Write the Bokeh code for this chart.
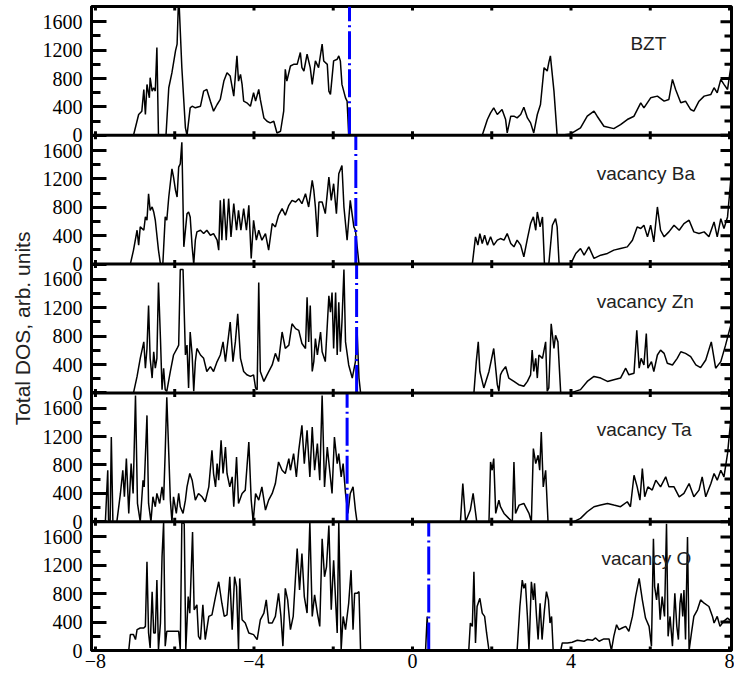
import math
from bokeh.plotting import figure
from bokeh.models import Range1d, LinearAxis, FixedTicker, Label, Span
from bokeh.embed import file_html
from bokeh.resources import INLINE

# ---------------- data (energy in eV, total DOS in arb. units) ----------------
panel_names = ["BZT", "vacancy Ba", "vacancy Zn", "vacancy Ta", "vacancy O"]
fermi_levels = [-1.59, -1.43, -1.41, -1.65, 0.41]
x_ticks = [-8, -4, 0, 4, 8]
x_tick_labels = ["\u22128", "\u22124", "0", "4", "8"]
x_minor_ticks = [-6, -2, 2, 6]
y_ticks = [0, 400, 800, 1200, 1600]
y_minor_ticks = [200, 600, 1000, 1400]

dos_bzt = [(-7.10, 0), (-7.04, 0), (-6.91, 293), (-6.83, 340), (-6.78, 646), (-6.74, 293), (-6.70, 717), (-6.64, 528), (-6.62, 812), (-6.57, 623), (-6.53, 670), (-6.49, 623), (-6.45, 1237), (-6.41, 0), (-6.22, 0), (-6.15, 670), (-6.07, 883), (-5.98, 1190), (-5.94, 1284), (-5.90, 2000), (-5.82, 953), (-5.73, 104), (-5.69, 0), (-5.61, 387), (-5.56, 410), (-5.48, 387), (-5.35, 410), (-5.27, 623), (-5.19, 646), (-5.10, 481), (-5.02, 340), (-4.93, 434), (-4.85, 505), (-4.76, 764), (-4.68, 883), (-4.60, 835), (-4.51, 552), (-4.43, 1119), (-4.39, 764), (-4.34, 859), (-4.30, 717), (-4.26, 481), (-4.18, 458), (-4.09, 410), (-4.01, 599), (-3.96, 481), (-3.88, 646), (-3.84, 505), (-3.75, 245), (-3.67, 198), (-3.59, 175), (-3.50, 198), (-3.42, 33), (-3.33, 57), (-3.25, 340), (-3.21, 930), (-3.17, 764), (-3.08, 977), (-3.00, 1000), (-2.91, 1000), (-2.83, 1166), (-2.79, 953), (-2.74, 906), (-2.66, 1142), (-2.58, 953), (-2.53, 717), (-2.45, 1048), (-2.37, 953), (-2.28, 1284), (-2.24, 1048), (-2.15, 1000), (-2.11, 623), (-2.07, 576), (-1.99, 1048), (-1.90, 1071), (-1.86, 1119), (-1.82, 1048), (-1.78, 717), (-1.69, 528), (-1.65, 481), (-1.61, 0),
           (1.76, 0), (1.89, 222), (1.97, 316), (2.05, 387), (2.14, 293), (2.26, 363), (2.35, 222), (2.39, 33), (2.48, 269), (2.56, 269), (2.64, 245), (2.73, 293), (2.81, 396), (2.90, 245), (2.98, 175), (3.06, 33), (3.15, 293), (3.23, 434), (3.32, 953), (3.40, 906), (3.44, 1024), (3.48, 1119), (3.57, 623), (3.65, 0), (3.74, 0), (3.99, 19), (4.24, 104), (4.41, 269), (4.58, 340), (4.66, 269), (4.83, 127), (5.08, 94), (5.25, 151), (5.42, 222), (5.59, 269), (5.76, 458), (5.84, 387), (6.01, 528), (6.18, 552), (6.35, 481), (6.47, 505), (6.56, 788), (6.64, 646), (6.77, 458), (6.89, 481), (7.02, 363), (7.10, 340), (7.23, 481), (7.36, 552), (7.53, 576), (7.61, 670), (7.69, 599), (7.78, 788), (7.86, 717), (7.95, 646), (8.03, 953)]

dos_vac_ba = [(-7.14, 0), (-7.12, 0), (-7.04, 197), (-6.95, 477), (-6.91, 267), (-6.87, 524), (-6.78, 477), (-6.74, 665), (-6.70, 618), (-6.66, 992), (-6.62, 758), (-6.57, 805), (-6.53, 735), (-6.49, 618), (-6.41, 197), (-6.36, 0), (-6.30, 0), (-6.24, 665), (-6.20, 618), (-6.15, 945), (-6.07, 1343), (-6.03, 1226), (-5.98, 1039), (-5.94, 945), (-5.90, 1367), (-5.86, 1413), (-5.82, 1718), (-5.77, 243), (-5.69, 711), (-5.65, 735), (-5.61, 665), (-5.56, 243), (-5.52, 0), (-5.48, 337), (-5.44, 454), (-5.35, 477), (-5.27, 430), (-5.19, 477), (-5.10, 407), (-5.02, 430), (-4.93, 337), (-4.89, 197), (-4.85, 899), (-4.81, 337), (-4.76, 922), (-4.70, 337), (-4.64, 922), (-4.58, 384), (-4.51, 852), (-4.44, 477), (-4.39, 758), (-4.33, 477), (-4.26, 782), (-4.19, 477), (-4.13, 828), (-4.07, 80), (-4.01, 618), (-3.94, 337), (-3.88, 477), (-3.80, 337), (-3.71, 430), (-3.63, 197), (-3.54, 571), (-3.46, 524), (-3.38, 688), (-3.29, 782), (-3.21, 688), (-3.12, 828), (-3.04, 899), (-2.95, 875), (-2.87, 922), (-2.79, 852), (-2.70, 992), (-2.62, 805), (-2.53, 1179), (-2.49, 1039), (-2.45, 805), (-2.40, 384), (-2.36, 875), (-2.28, 875), (-2.20, 711), (-2.11, 1226), (-2.05, 899), (-1.99, 1133), (-1.92, 711), (-1.86, 1273), (-1.78, 1390), (-1.73, 805), (-1.65, 337), (-1.57, 899), (-1.48, 524), (-1.44, 477), (-1.35, 0),
              (1.51, 0), (1.59, 384), (1.65, 267), (1.70, 430), (1.76, 290), (1.82, 407), (1.89, 267), (1.97, 384), (2.05, 267), (2.14, 337), (2.22, 360), (2.31, 337), (2.39, 430), (2.48, 290), (2.56, 243), (2.64, 337), (2.73, 267), (2.81, 103), (2.90, 360), (2.98, 571), (3.05, 665), (3.11, 477), (3.15, 735), (3.22, 524), (3.28, 665), (3.33, 0), (3.44, 0), (3.53, 548), (3.61, 641), (3.65, 524), (3.70, 0), (3.99, 0), (4.12, 150), (4.24, 220), (4.33, 126), (4.45, 243), (4.58, 80), (4.75, 126), (4.92, 150), (5.08, 197), (5.25, 220), (5.42, 243), (5.55, 337), (5.67, 524), (5.76, 501), (5.84, 548), (5.93, 384), (6.01, 548), (6.09, 314), (6.18, 805), (6.26, 477), (6.35, 384), (6.47, 454), (6.60, 548), (6.73, 477), (6.85, 571), (6.98, 618), (7.10, 454), (7.23, 430), (7.36, 454), (7.48, 384), (7.61, 594), (7.69, 384), (7.78, 641), (7.86, 501), (7.95, 665), (8.03, 1179)]

dos_vac_zn = [(-7.08, 0), (-7.04, 0), (-6.95, 232), (-6.87, 487), (-6.78, 719), (-6.74, 348), (-6.70, 626), (-6.66, 1230), (-6.62, 487), (-6.57, 209), (-6.53, 580), (-6.49, 348), (-6.45, 487), (-6.41, 1554), (-6.36, 766), (-6.32, 46), (-6.28, 348), (-6.24, 46), (-6.20, 23), (-6.11, 302), (-6.03, 534), (-5.94, 626), (-5.90, 673), (-5.86, 1740), (-5.79, 1740), (-5.73, 534), (-5.69, 673), (-5.65, 70), (-5.61, 858), (-5.56, 534), (-5.52, 23), (-5.48, 441), (-5.44, 626), (-5.35, 534), (-5.27, 487), (-5.19, 302), (-5.10, 371), (-5.02, 302), (-4.93, 441), (-4.85, 534), (-4.78, 719), (-4.72, 441), (-4.60, 998), (-4.53, 441), (-4.47, 719), (-4.41, 1114), (-4.34, 487), (-4.26, 302), (-4.18, 255), (-4.09, 232), (-4.01, 255), (-3.96, 70), (-3.92, 46), (-3.88, 1554), (-3.84, 302), (-3.75, 162), (-3.67, 255), (-3.54, 394), (-3.46, 557), (-3.38, 441), (-3.29, 858), (-3.21, 626), (-3.12, 673), (-3.04, 974), (-2.95, 905), (-2.87, 882), (-2.79, 696), (-2.70, 626), (-2.66, 1346), (-2.62, 719), (-2.58, 1230), (-2.53, 302), (-2.49, 441), (-2.45, 766), (-2.40, 534), (-2.32, 858), (-2.28, 580), (-2.20, 441), (-2.11, 1369), (-2.07, 1137), (-2.03, 1415), (-1.99, 626), (-1.94, 1415), (-1.90, 534), (-1.86, 1276), (-1.82, 580), (-1.78, 998), (-1.73, 1740), (-1.69, 719), (-1.61, 394), (-1.52, 209), (-1.44, 441), (-1.40, 905), (-1.35, 209), (-1.31, 0),
              (1.55, 0), (1.61, 441), (1.66, 719), (1.70, 302), (1.80, 70), (1.93, 302), (2.05, 626), (2.14, 116), (2.18, 23), (2.22, 255), (2.26, 302), (2.35, 371), (2.43, 209), (2.56, 162), (2.68, 116), (2.81, 93), (2.90, 162), (2.98, 255), (3.02, 603), (3.06, 302), (3.11, 487), (3.15, 209), (3.19, 534), (3.28, 487), (3.36, 719), (3.40, 23), (3.44, 70), (3.50, 974), (3.57, 626), (3.61, 812), (3.67, 719), (3.74, 0), (3.99, 0), (4.24, 46), (4.41, 162), (4.58, 232), (4.75, 209), (4.92, 162), (5.08, 186), (5.25, 209), (5.38, 348), (5.46, 255), (5.59, 278), (5.66, 882), (5.72, 348), (5.77, 487), (5.84, 394), (5.90, 835), (5.94, 348), (6.03, 441), (6.09, 302), (6.18, 534), (6.26, 603), (6.35, 557), (6.43, 418), (6.56, 394), (6.68, 487), (6.77, 580), (6.89, 557), (7.02, 510), (7.15, 394), (7.27, 357), (7.40, 464), (7.54, 719), (7.65, 348), (7.78, 441), (7.90, 673), (8.03, 951)]

dos_vac_ta = [(-7.75, 0), (-7.69, 725), (-7.67, 23), (-7.63, 0), (-7.60, 1193), (-7.56, 0), (-7.46, 0), (-7.37, 398), (-7.31, 725), (-7.27, 351), (-7.22, 889), (-7.16, 117), (-7.10, 819), (-7.05, 398), (-6.99, 1778), (-6.94, 257), (-6.87, 0), (-6.80, 585), (-6.77, 491), (-6.70, 1498), (-6.66, 257), (-6.60, 0), (-6.55, 351), (-6.49, 211), (-6.45, 398), (-6.38, 257), (-6.32, 491), (-6.28, 304), (-6.24, 983), (-6.20, 1755), (-6.15, 959), (-6.11, 304), (-6.07, 0), (-6.03, 351), (-5.96, 117), (-5.90, 398), (-5.86, 211), (-5.79, 117), (-5.73, 304), (-5.69, 491), (-5.62, 679), (-5.56, 585), (-5.48, 304), (-5.40, 398), (-5.31, 351), (-5.23, 281), (-5.14, 491), (-5.06, 1006), (-5.02, 679), (-4.97, 491), (-4.93, 819), (-4.89, 585), (-4.83, 1147), (-4.78, 679), (-4.72, 1053), (-4.68, 679), (-4.61, 491), (-4.55, 632), (-4.51, 211), (-4.44, 912), (-4.39, 257), (-4.30, 398), (-4.22, 445), (-4.13, 1123), (-4.07, 304), (-4.02, 0), (-3.96, 398), (-3.88, 304), (-3.80, 491), (-3.71, 164), (-3.63, 304), (-3.54, 398), (-3.46, 538), (-3.38, 842), (-3.29, 725), (-3.21, 679), (-3.12, 889), (-3.08, 725), (-3.00, 959), (-2.93, 632), (-2.87, 1006), (-2.79, 1357), (-2.73, 819), (-2.66, 1287), (-2.59, 632), (-2.53, 1334), (-2.47, 725), (-2.40, 1100), (-2.34, 585), (-2.28, 1778), (-2.22, 491), (-2.15, 1053), (-2.09, 725), (-2.03, 398), (-1.97, 1193), (-1.90, 819), (-1.86, 959), (-1.80, 632), (-1.75, 819), (-1.69, 398), (-1.63, 117), (-1.57, 398), (-1.50, 491), (-1.44, 164), (-1.40, 0),
              (1.21, 0), (1.27, 538), (1.34, 0), (1.46, 164), (1.53, 398), (1.62, 0), (1.93, 0), (1.97, 842), (2.01, 725), (2.05, 889), (2.10, 117), (2.14, 211), (2.18, 304), (2.22, 211), (2.31, 117), (2.43, 47), (2.52, 0), (2.56, 842), (2.60, 117), (2.69, 234), (2.81, 257), (2.94, 117), (3.00, 0), (3.05, 1030), (3.11, 819), (3.17, 936), (3.21, 725), (3.25, 1264), (3.30, 491), (3.36, 725), (3.42, 0), (4.07, 0), (4.24, 47), (4.41, 140), (4.58, 211), (4.75, 234), (4.92, 257), (5.08, 234), (5.25, 211), (5.42, 281), (5.50, 211), (5.59, 655), (5.67, 491), (5.74, 304), (5.80, 749), (5.86, 351), (5.94, 491), (6.05, 445), (6.14, 585), (6.26, 491), (6.39, 632), (6.47, 491), (6.60, 491), (6.73, 351), (6.85, 398), (6.98, 538), (7.10, 351), (7.23, 445), (7.31, 632), (7.40, 351), (7.53, 538), (7.61, 679), (7.69, 585), (7.78, 725), (7.86, 632), (7.95, 959), (8.03, 1427)]

dos_vac_o = [(-7.20, 0), (-7.16, 0), (-7.12, 224), (-7.04, 224), (-6.99, 154), (-6.95, 294), (-6.87, 317), (-6.78, 317), (-6.74, 340), (-6.70, 1249), (-6.66, 247), (-6.62, 37), (-6.57, 829), (-6.53, 247), (-6.49, 247), (-6.45, 993), (-6.41, 14), (-6.36, 387), (-6.32, 1319), (-6.28, 1808), (-6.24, 61), (-6.20, 270), (-6.11, 270), (-6.03, 270), (-5.90, 270), (-5.86, 14), (-5.82, 1808), (-5.76, 1785), (-5.72, 14), (-5.66, 760), (-5.62, 527), (-5.55, 1668), (-5.51, 573), (-5.44, 643), (-5.40, 200), (-5.35, 154), (-5.29, 643), (-5.23, 154), (-5.14, 480), (-5.06, 503), (-4.97, 760), (-4.89, 969), (-4.81, 666), (-4.75, 480), (-4.68, 503), (-4.61, 1039), (-4.55, 294), (-4.49, 1039), (-4.44, 899), (-4.39, 14), (-4.36, 1016), (-4.30, 433), (-4.22, 387), (-4.13, 247), (-4.01, 224), (-3.92, 154), (-3.84, 433), (-3.75, 527), (-3.69, 713), (-3.63, 387), (-3.54, 387), (-3.46, 480), (-3.38, 806), (-3.32, 480), (-3.27, 61), (-3.21, 876), (-3.15, 713), (-3.08, 294), (-3.01, 480), (-2.91, 1435), (-2.85, 853), (-2.79, 1365), (-2.73, 760), (-2.66, 527), (-2.59, 1808), (-2.53, 480), (-2.47, 783), (-2.40, 527), (-2.34, 340), (-2.28, 1575), (-2.22, 1039), (-2.17, 1179), (-2.11, 1761), (-2.05, 573), (-1.99, 1272), (-1.90, 247), (-1.86, 1808), (-1.80, 14), (-1.75, 480), (-1.69, 294), (-1.61, 666), (-1.55, 1132), (-1.50, 294), (-1.46, 806), (-1.40, 806), (-1.35, 829), (-1.31, 0),
             (0.33, 0), (0.37, 480), (0.41, 0),
             (1.42, 0), (1.46, 387), (1.51, 340), (1.55, 1109), (1.59, 107), (1.63, 620), (1.70, 736), (1.76, 527), (1.82, 480), (1.87, 247), (1.93, 0), (2.64, 0), (2.71, 620), (2.77, 993), (2.81, 876), (2.85, 946), (2.90, 480), (2.94, 0), (3.00, 969), (3.05, 713), (3.08, 946), (3.13, 480), (3.17, 154), (3.22, 666), (3.27, 154), (3.33, 573), (3.38, 829), (3.43, 713), (3.47, 387), (3.51, 480), (3.55, 0), (3.74, 0), (3.78, 107), (3.91, 107), (4.03, 117), (4.16, 144), (4.33, 130), (4.41, 154), (4.54, 144), (4.62, 177), (4.71, 130), (4.83, 163), (4.96, 163), (5.02, 0), (5.08, 200), (5.15, 363), (5.21, 294), (5.29, 317), (5.38, 340), (5.46, 270), (5.55, 480), (5.63, 760), (5.72, 1016), (5.80, 713), (5.88, 457), (5.97, 340), (6.03, 61), (6.08, 1575), (6.11, 899), (6.16, 713), (6.20, 946), (6.25, 433), (6.30, 760), (6.36, 480), (6.41, 1785), (6.45, 200), (6.50, 480), (6.56, 61), (6.62, 806), (6.67, 340), (6.71, 154), (6.75, 666), (6.78, 806), (6.82, 480), (6.85, 853), (6.89, 154), (6.94, 1598), (6.98, 0), (7.04, 247), (7.10, 480), (7.19, 573), (7.27, 713), (7.36, 666), (7.48, 620), (7.57, 480), (7.61, 387), (7.69, 480), (7.76, 340), (7.85, 410), (7.95, 457), (8.03, 420)]

panels_data = [dos_bzt, dos_vac_ba, dos_vac_zn, dos_vac_ta, dos_vac_o]

# ---------------- layout / style ----------------
X_MIN, X_MAX = -8.1, 8.05
PANEL_MAX = 1815          # value range shown in each stacked panel
N = len(panels_data)
SERIF = "Liberation Serif"
SANS = "Liberation Sans"
LABEL_POS = [(5.5, 1300), (4.65, 1280), (4.65, 1290), (4.65, 1300), (4.77, 1300)]

p = figure(width=734, height=674,
           x_range=Range1d(X_MIN, X_MAX), y_range=Range1d(0, N * PANEL_MAX),
           output_backend="svg", toolbar_location=None,
           x_axis_location=None, y_axis_location=None,
           min_border_left=91, min_border_right=3,
           min_border_top=6, min_border_bottom=24)
p.background_fill_color = "white"
p.border_fill_color = "white"
p.outline_line_color = "black"
p.outline_line_width = 3
p.grid.grid_line_color = None

# each panel gets its own y-range so that its 0..PANEL_MAX band sits in its slot
for k in range(N):
    j = N - 1 - k  # slot counted from the bottom
    p.extra_y_ranges[f"panel{k}"] = Range1d(-j * PANEL_MAX, (N - j) * PANEL_MAX)

# left axis: ticks/labels repeated for every panel slot
major_pos, minor_pos, overrides = [], [], {}
for j in range(N):
    for v in y_ticks:
        major_pos.append(j * PANEL_MAX + v)
        overrides[j * PANEL_MAX + v] = str(v)
    for v in y_minor_ticks:
        minor_pos.append(j * PANEL_MAX + v)

yl = LinearAxis(ticker=FixedTicker(ticks=major_pos, minor_ticks=minor_pos))
yl.major_label_overrides = overrides
yl.major_tick_in = 15
yl.major_tick_out = 0
yl.minor_tick_in = 9
yl.minor_tick_out = 0
yl.major_tick_line_width = 3
yl.minor_tick_line_width = 3
yl.axis_line_width = 3
yl.major_label_text_font = SERIF
yl.major_label_text_font_size = "20px"
yl.major_label_text_color = "black"
yl.major_label_standoff = 9
yl.axis_label = "Total DOS, arb. units"
yl.axis_label_text_font = SANS
yl.axis_label_text_font_size = "21px"
yl.axis_label_text_font_style = "normal"
yl.axis_label_text_color = "#222222"
yl.axis_label_standoff = 6
p.add_layout(yl, "left")

xb = LinearAxis(ticker=FixedTicker(ticks=x_ticks, minor_ticks=x_minor_ticks))
xb.major_label_overrides = {t: lab for t, lab in zip(x_ticks, x_tick_labels)}
xb.major_label_text_font = SERIF
xb.major_label_text_font_size = "20px"
xb.major_label_text_color = "black"
xb.major_label_standoff = 3
xb.axis_line_width = 3
xb.major_tick_in = 0
xb.major_tick_out = 0
xb.minor_tick_in = 0
xb.minor_tick_out = 0
p.add_layout(xb, "below")

# panel separators
for j in range(1, N):
    p.add_layout(Span(location=j * PANEL_MAX, dimension="width", line_color="black", line_width=3))

# small x ticks on every panel border (inward half visible)
tick_x, tick_y = [], []
for j in range(N + 1):
    for t in sorted(x_ticks + x_minor_ticks):
        tick_x.append(t)
        tick_y.append(j * PANEL_MAX)
p.scatter(tick_x, tick_y, marker="dash", angle=math.pi / 2, size=8,
          line_color="black", line_width=3)

# right-hand inward ticks (no labels), centred on the right border
p.scatter([X_MAX] * len(major_pos), major_pos, marker="dash", size=22,
          line_color="black", line_width=3)
p.scatter([X_MAX] * len(minor_pos), minor_pos, marker="dash", size=14,
          line_color="black", line_width=3)

for k, pts in enumerate(panels_data):
    rn = f"panel{k}"
    e_vals = [q[0] for q in pts]
    d_vals = [q[1] for q in pts]
    p.line(e_vals, d_vals, line_color="black", line_width=1.5, y_range_name=rn)
    p.segment(x0=[fermi_levels[k]], y0=[0], x1=[fermi_levels[k]], y1=[PANEL_MAX],
              line_color="#0000ff", line_width=3, line_dash="28 4 2 4", y_range_name=rn)
    lx, ly = LABEL_POS[k]
    p.add_layout(Label(x=lx, y=ly, y_range_name=rn, text=panel_names[k], text_font=SANS,
                       text_font_size="19px", text_color="#222222",
                       text_align="left", text_baseline="middle"))

open("out.html", "w").write(file_html(p, INLINE))
